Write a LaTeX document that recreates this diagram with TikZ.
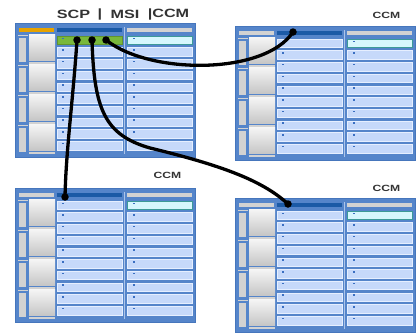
\documentclass[tikz,border=0pt]{standalone}
\usepackage{fontspec}
\setsansfont{Liberation Sans}
\definecolor{panelblue}{HTML}{5585CA}
\definecolor{paneledge}{HTML}{4676BC}
\definecolor{cellblue}{HTML}{C6D9FA}
\definecolor{celledge}{HTML}{E6EFFF}
\definecolor{barblue}{HTML}{1B5AA6}
\definecolor{bargray}{HTML}{D2D2D2}
\definecolor{barorange}{HTML}{E6A200}
\definecolor{rowgreen}{HTML}{79B83C}
\definecolor{cellcyan}{HTML}{D6F7FD}
\definecolor{celltealedge}{HTML}{3D9A98}
\definecolor{markblue}{HTML}{3A6FC2}
\definecolor{labelgray}{HTML}{333333}
\tikzset{
  panelbox/.style={draw=paneledge, line width=1pt, fill=panelblue, minimum width=180pt, minimum height=134pt, inner sep=0pt, outer sep=0pt},
  cell/.style={draw=celledge, line width=0.5pt, fill=cellblue},
  cyancell/.style={draw=celltealedge, line width=0.6pt, fill=cellcyan},
  greencell/.style={draw=rowgreen!80!black, line width=0.5pt, fill=rowgreen},
  lbl/.style={font=\sffamily\bfseries, text=labelgray, inner sep=0pt, xscale=1.35},
  wire/.style={line width=3.3pt, black, line cap=round},
  dot/.style={circle, fill=black, minimum size=7.5pt, inner sep=0pt},
}
\newcommand\drawpanel[6]{% name, x, y, left bar color, first middle row style, first right row style
\begin{scope}[shift={(#2,#3)}]
  \node[panelbox, anchor=north west] (#1) at (0,0) {};
  \fill[#4] (4,5) rectangle (39,9);
  \fill[barblue] (42,5) rectangle (107,9);
  \fill[bargray] (112,5) rectangle (177,9);
  \fill[celledge!60!panelblue] (109.2,4) rectangle (110.2,131);
  \foreach \i in {0,...,3} {
    \fill[bargray] (2.5,11.5+30*\i) rectangle (12.5,13+30*\i);
    \fill[bargray] (4,15+30*\i) rectangle (11,39+30*\i);
    \shade[top color=white!92!gray, bottom color=gray!45] (14,11.5+30*\i) rectangle (40,37.5+30*\i);
    \fill[bargray] (14,39+30*\i) rectangle (40,40.5+30*\i);
  }
  \foreach \k in {0,...,9} {
    \ifnum\k=0
      \draw[#5] (42,13) rectangle (107,21.5);
      \draw[#6] (112,13) rectangle (177,21.5);
    \else
      \draw[cell] (42,13+11.7*\k) rectangle (107,21.5+11.7*\k);
      \draw[cell] (112,13+11.7*\k) rectangle (177,21.5+11.7*\k);
    \fi
    \fill[markblue] (47,14.5+11.7*\k) rectangle (49,16+11.7*\k);
    \fill[markblue] (118,14.5+11.7*\k) rectangle (120,16+11.7*\k);
  }
\end{scope}}
\begin{document}
\begin{tikzpicture}[x=1pt,y=-1pt]
  \useasboundingbox[fill=white] (0,0) rectangle (417,332);
  \drawpanel{p1}{15}{23}{barorange}{greencell}{cyancell}
  \drawpanel{p2}{235}{26}{bargray}{cell}{cyancell}
  \drawpanel{p3}{15}{188}{bargray}{cell}{cyancell}
  \drawpanel{p4}{235}{198}{bargray}{cell}{cyancell}
  % labels
  \node[lbl, font=\sffamily\bfseries\fontsize{12}{12}\selectfont] (lscp) at (73.5,14) {SCP};
  \node[lbl, font=\sffamily\bfseries\fontsize{12}{12}\selectfont] (lbar1) at (100,14) {|};
  \node[lbl, font=\sffamily\bfseries\fontsize{12}{12}\selectfont] (lmsi) at (125,14) {MSI};
  \node[lbl, font=\sffamily\bfseries\fontsize{12}{12}\selectfont] (lccm1) at (168.5,14) {|CCM};
  \node[lbl, font=\sffamily\bfseries\fontsize{9}{9}\selectfont] (lccm2) at (386.5,15) {CCM};
  \node[lbl, font=\sffamily\bfseries\fontsize{9}{9}\selectfont] (lccm3) at (167.5,175) {CCM};
  \node[lbl, font=\sffamily\bfseries\fontsize{9}{9}\selectfont] (lccm4) at (386.5,188) {CCM};
  % dots
  \node[dot] (da) at (77,40) {};
  \node[dot] (db) at (92,40) {};
  \node[dot] (dc) at (106,40) {};
  \node[dot] (d2) at (293,32) {};
  \node[dot] (d3) at (65,197) {};
  \node[dot] (d4) at (288,204) {};
  % wires
  \draw[wire] (dc.center) .. controls (150,75) and (265,75) .. (d2.center);
  \draw[wire] (da.center) .. controls (73,100) and (66,150) .. (d3.center);
  \draw[wire] (db.center) .. controls (94,110) and (105,135) .. (150,148)
                          .. controls (220,165) and (262,180) .. (d4.center);
\end{tikzpicture}
\end{document}
